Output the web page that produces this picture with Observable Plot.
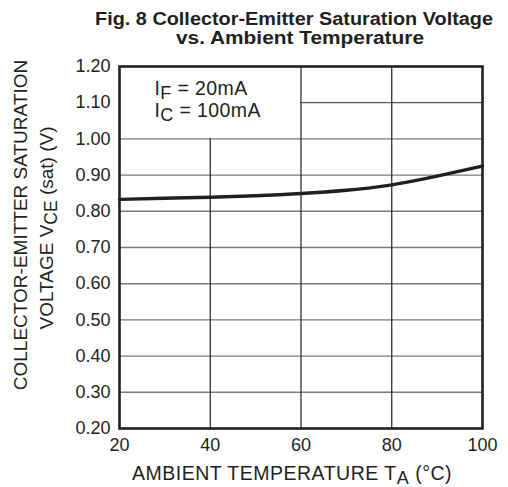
<!DOCTYPE html>
<html><head><meta charset="utf-8">
<script src="https://cdn.jsdelivr.net/npm/d3@7"></script>
<script src="https://cdn.jsdelivr.net/npm/@observablehq/plot@0.6"></script>
<style>body{margin:0;background:#fff} svg{font-family:"Liberation Sans",Arial,sans-serif}</style>
</head><body><div id="chart"></div>
<script>
// Data
const temperature = [20, 30, 40, 50, 60, 70, 80, 90, 100];
const vceSat = [0.833, 0.836, 0.839, 0.843, 0.849, 0.858, 0.873, 0.897, 0.925];
const xTicks = [20, 40, 60, 80, 100];
const yTicks = [0.20, 0.30, 0.40, 0.50, 0.60, 0.70, 0.80, 0.90, 1.00, 1.10, 1.20];
const hGridFull = [0.30, 0.40, 0.50, 0.60, 0.70, 0.80, 0.90, 1.00];
const hGridPartialY = [1.10];
const hGridPartialX1 = [60];
const vGridX = [40, 60, 80];
const vGridTop = [1.00, 1.20, 1.20];
const titleLines = ["Fig. 8 Collector-Emitter Saturation Voltage", "vs. Ambient Temperature"];
const legendLines = [["I", "F", " = 20mA"], ["I", "C", " = 100mA"]];

const data = temperature.map((t, i) => ({t, v: vceSat[i]}));
const hPartial = hGridPartialY.map((y, i) => ({y, x1: hGridPartialX1[i], x2: 100}));
const vGrid = vGridX.map((x, i) => ({x, y1: 0.2, y2: vGridTop[i]}));
const ink = "#231f20";

const plot = Plot.plot({
  width: 508, height: 487,
  marginTop: 66, marginLeft: 119, marginRight: 26, marginBottom: 59,
  style: {fontSize: "18px", fontFamily: "'Liberation Sans', Arial, sans-serif", color: ink, background: "#fff"},
  x: {domain: [20, 100]},
  y: {domain: [0.2, 1.2]},
  marks: [
    Plot.ruleY(hGridFull, {stroke: "#7a7a7a", strokeWidth: 1.4}),
    Plot.ruleY(hPartial, {y: "y", x1: "x1", x2: "x2", stroke: "#555", strokeWidth: 1.2}),
    Plot.ruleX(vGrid, {x: "x", y1: "y1", y2: "y2", stroke: ink, strokeWidth: 1.2}),
    Plot.line(data, {x: "t", y: "v", stroke: ink, strokeWidth: 3.4, curve: "natural"}),
    Plot.frame({stroke: ink, strokeWidth: 2.6}),
    Plot.axisX(xTicks, {tickSize: 0, tickPadding: 10, label: null, tickFormat: d => String(d), fontSize: 18}),
    Plot.axisY(yTicks, {tickSize: 0, tickPadding: 9, label: null, tickFormat: d => d.toFixed(2), fontSize: 18})
  ]
});
document.getElementById("chart").appendChild(plot);

const svg = d3.select(plot);
const xs = plot.scale("x"), ys = plot.scale("y");

// Title
svg.append("text").attr("x", 294).attr("y", 25).attr("text-anchor", "middle")
  .attr("font-weight", "bold").attr("font-size", 17.5).attr("fill", ink)
  .attr("textLength", 398).attr("lengthAdjust", "spacingAndGlyphs").text(titleLines[0]);
svg.append("text").attr("x", 300).attr("y", 43.5).attr("text-anchor", "middle")
  .attr("font-weight", "bold").attr("font-size", 17.5).attr("fill", ink)
  .attr("textLength", 248).attr("lengthAdjust", "spacingAndGlyphs").text(titleLines[1]);

// Legend
legendLines.forEach((parts, i) => {
  const t = svg.append("text").attr("x", xs.apply(27.8)).attr("y", ys.apply(1.12) + i * 22)
    .attr("text-anchor", "start").attr("font-size", 19.5).attr("letter-spacing", 0.4).attr("fill", ink);
  t.append("tspan").text(parts[0]);
  t.append("tspan").attr("dy", 4).attr("font-size", 18).text(parts[1]);
  t.append("tspan").attr("dy", -4).text(parts[2]);
});

// X label
const xl = svg.append("text").attr("x", 292).attr("y", 480).attr("text-anchor", "middle")
  .attr("font-size", 19.5).attr("letter-spacing", 0.5).attr("fill", ink);
xl.append("tspan").text("AMBIENT TEMPERATURE T");
xl.append("tspan").attr("dy", 3.5).attr("font-size", 18).text("A");
xl.append("tspan").attr("dy", -3.5).text(" (°C)");

// Y label
svg.append("text").attr("transform", "translate(27,225) rotate(-90)")
  .attr("text-anchor", "middle").attr("font-size", 19).attr("fill", ink)
  .text("COLLECTOR-EMITTER SATURATION");
const yl2 = svg.append("text").attr("transform", "translate(53,228) rotate(-90)")
  .attr("text-anchor", "middle").attr("font-size", 19).attr("fill", ink);
yl2.append("tspan").text("VOLTAGE V");
yl2.append("tspan").attr("dy", 4).attr("font-size", 17.5).text("CE");
yl2.append("tspan").attr("dy", -4).text(" (sat) (V)");
</script></body></html>
